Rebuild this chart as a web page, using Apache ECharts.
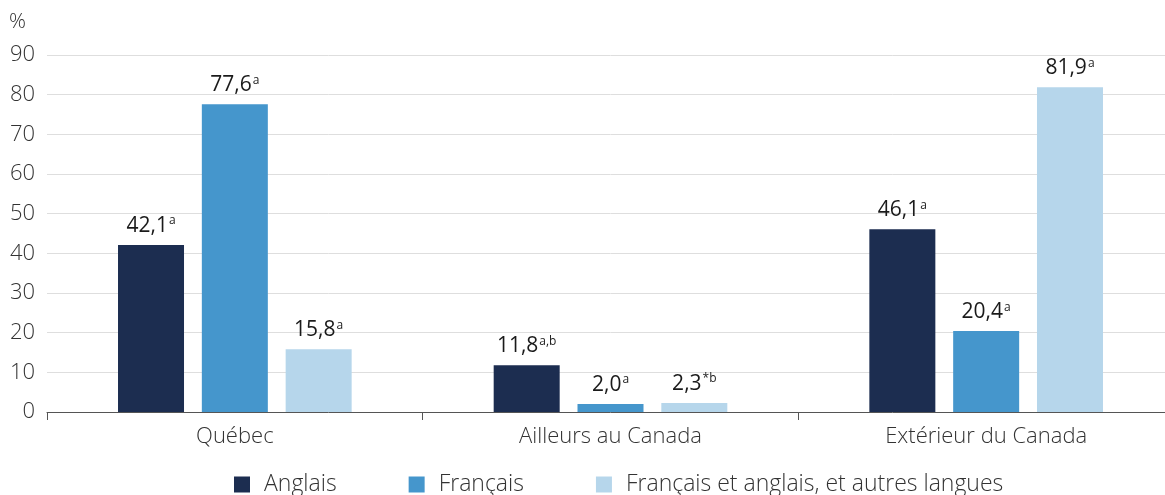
<!DOCTYPE html>
<html>
<head>
<meta charset="utf-8">
<script src="https://cdn.jsdelivr.net/npm/echarts@6/dist/echarts.min.js"></script>
<style>
  html, body { margin: 0; padding: 0; background: #fff; overflow: hidden; }
  #container { width: 1174px; height: 495px; }
</style>
</head>
<body>
<div id="container"></div>
<script>
(function(){
    var dom = document.getElementById("container");
    var myChart = echarts.init(dom);

    var categories = ["Québec", "Ailleurs au Canada", "Extérieur du Canada"];
    var seriesNames = ["Anglais", "Français", "Français et anglais, et autres langues"];
    var anglais = [42.1, 11.8, 46.1];
    var francais = [77.6, 2.0, 20.4];
    var autres = [15.8, 2.3, 81.9];
    // notes en exposant pour chaque barre
    var notesAnglais = ["a", "a,b", "a"];
    var notesFrancais = ["a", "a", "a"];
    var notesAutres = ["a", "*b", "a"];
    var colors = ["#1c2d50", "#4596cc", "#b6d6eb"];

    var font = "Open Sans";

    function makeSeries(name, values, notes, color){
        return {
            name: name,
            type: 'bar',
            barWidth: 66,
            barGap: '27%',
            itemStyle: { color: color },
            label: {
                show: true,
                position: 'top',
                distance: 8,
                formatter: function(p){
                    var v = p.value.toFixed(1).replace('.', ',');
                    return '{v|' + v + '}{s|' + notes[p.dataIndex] + '}';
                },
                rich: {
                    v: { fontFamily: font, fontSize: 21, color: '#1a1a1a' },
                    s: { fontFamily: font, fontSize: 12, color: '#1a1a1a', verticalAlign: 'top', padding: [0, 0, 10, 1] }
                }
            },
            data: values
        };
    }

    var option = {
        animation: false,
        textStyle: { fontFamily: font },
        graphic: [{
            type: 'text',
            left: 9,
            top: 12,
            style: { text: '%', fontFamily: font, fontWeight: 300, fontSize: 21, fill: '#333' }
        }],
        legend: {
            top: 473,
            left: 234,
            padding: 0,
            itemWidth: 16,
            itemHeight: 16,
            itemGap: 72,
            icon: 'rect',
            textStyle: { fontFamily: font, fontWeight: 300, fontSize: 23, color: '#333', padding: [0, 0, 0, 9] },
            data: seriesNames
        },
        grid: {
            left: 47,
            top: 55,
            right: 0,
            height: 357,
            containLabel: false
        },
        xAxis: {
            type: 'category',
            data: categories,
            axisLine: { lineStyle: { color: '#555', width: 1 } },
            axisTick: { show: true, length: 8, lineStyle: { color: '#555' } },
            axisLabel: { fontFamily: font, fontWeight: 300, fontSize: 22, color: '#333', margin: 14 }
        },
        yAxis: {
            type: 'value',
            min: 0,
            max: 90,
            interval: 10,
            axisLine: { show: false },
            axisTick: { show: false },
            axisLabel: { fontFamily: font, fontWeight: 300, fontSize: 22, color: '#333', margin: 12 },
            splitLine: { lineStyle: { color: '#dedede', width: 1 } }
        },
        series: [
            makeSeries(seriesNames[0], anglais, notesAnglais, colors[0]),
            makeSeries(seriesNames[1], francais, notesFrancais, colors[1]),
            makeSeries(seriesNames[2], autres, notesAutres, colors[2])
        ]
    };

    myChart.setOption(option, true);
    window.onresize = myChart.resize;
}())
</script>
</body>
</html>
